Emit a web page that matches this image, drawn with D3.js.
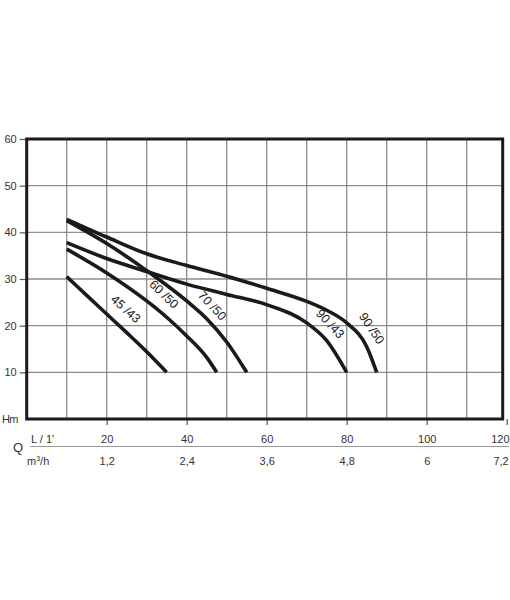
<!DOCTYPE html>
<html>
<head>
<meta charset="utf-8">
<script src="https://cdn.jsdelivr.net/npm/d3@7"></script>
<style>
  body { margin: 0; background: #fff; }
  svg { display: block; }
  text { font-family: "Liberation Sans", Arial, sans-serif; }
</style>
</head>
<body>
<div id="chart"></div>
<script>
// pump curves: Q in L/min, H in m
const c4543 = [[10, 30.5], [15, 26.5], [20, 22.5], [25, 18.5], [30, 14.4], [35, 10]];
const c6050 = [[10, 36.4], [20, 31.3], [30, 25.3], [35, 21.8], [40, 17.8], [45, 13.2], [47.5, 10]];
const c7050 = [[10, 42.5], [20, 37.6], [30, 31.8], [40, 25.3], [45, 21.5], [50, 16.5], [55, 10]];
const c9043 = [[10, 37.8], [20, 34.4], [30, 31.6], [40, 28.9], [50, 26.7], [60, 24.5], [70, 20.6], [75, 16.8], [80, 10]];
const c9050 = [[10, 42.8], [20, 39], [30, 35.4], [40, 32.9], [50, 30.6], [60, 28], [70, 25.2], [75, 23.3], [80, 20.6], [85, 15.5], [87.5, 10]];

const curveNames = ["45 /43", "60 /50", "70 /50", "90 /43", "90 /50"];
// label anchor (Q, H) and angle
const labelQ = [23.75, 33.25, 45.25, 74.75, 85];
const labelH = [22.6, 25.8, 23.4, 19.5, 18.7];
const labelAngle = [42, 44, 47, 47, 56];

const hTicks = [10, 20, 30, 40, 50, 60];
const qTicks = [20, 40, 60, 80, 100, 120];
const m3hTicks = ["1,2", "2,4", "3,6", "4,8", "6", "7,2"];
const qGrid = [10, 20, 30, 40, 50, 60, 70, 80, 90, 100, 110];

const width = 510, height = 600;

const svg = d3.select("#chart").append("svg")
  .attr("width", width)
  .attr("height", height);

const x = d3.scaleLinear().domain([0, 120]).range([26.7, 506.7]);
const y = d3.scaleLinear().domain([0, 60]).range([419, 139]);

// grid
svg.append("g")
  .selectAll("line")
  .data(qGrid)
  .join("line")
  .attr("x1", d => x(d)).attr("x2", d => x(d))
  .attr("y1", y(0)).attr("y2", y(60))
  .attr("stroke", "#8c8c8c")
  .attr("stroke-width", 1.3);

svg.append("g")
  .selectAll("line")
  .data(hTicks.slice(0, -1))
  .join("line")
  .attr("x1", x(0)).attr("x2", x(119))
  .attr("y1", d => y(d)).attr("y2", d => y(d))
  .attr("stroke", "#8c8c8c")
  .attr("stroke-width", 1.3);

// left axis
const yAxis = svg.append("g")
  .attr("transform", `translate(${x(0)},0)`)
  .call(d3.axisLeft(y).tickValues(hTicks).tickSize(7).tickPadding(3));
yAxis.select(".domain").remove();
yAxis.selectAll(".tick line").attr("stroke", "#555").attr("stroke-width", 1.2);
yAxis.selectAll(".tick text")
  .attr("font-size", 11)
  .attr("fill", "#333")
  .attr("font-family", "'Liberation Sans', Arial, sans-serif");

svg.append("text")
  .attr("x", 18).attr("y", y(0) + 4)
  .attr("text-anchor", "end")
  .attr("font-size", 11)
  .attr("fill", "#333")
  .attr("letter-spacing", -0.5)
  .text("Hm");

// bottom axis: L/1'
const xAxis = svg.append("g")
  .attr("transform", `translate(0,${y(0)})`)
  .call(d3.axisBottom(x).tickValues(qTicks).tickSize(6).tickPadding(10));
xAxis.select(".domain").remove();
xAxis.selectAll(".tick line").attr("stroke", "#555").attr("stroke-width", 1.2);
xAxis.selectAll(".tick text")
  .attr("font-size", 11)
  .attr("fill", "#333")
  .attr("font-family", "'Liberation Sans', Arial, sans-serif")
  .filter(d => d === 120).attr("text-anchor", "end").attr("dx", 2.3);

// bottom axis: m3/h
const mAxis = svg.append("g")
  .attr("transform", `translate(0,${y(0)})`)
  .call(d3.axisBottom(x).tickValues(qTicks).tickSize(0).tickPadding(38)
    .tickFormat((d, i) => m3hTicks[i]));
mAxis.select(".domain").remove();
mAxis.selectAll(".tick text")
  .attr("font-size", 11)
  .attr("fill", "#333")
  .attr("font-family", "'Liberation Sans', Arial, sans-serif")
  .filter(d => d === 120).attr("text-anchor", "end").attr("dx", 1.5);

// separator between units
svg.append("line")
  .attr("x1", 30).attr("x2", 509)
  .attr("y1", 446.5).attr("y2", 446.5)
  .attr("stroke", "#999")
  .attr("stroke-width", 1.2);

svg.append("text")
  .attr("x", 13).attr("y", 452)
  .attr("font-size", 13)
  .attr("fill", "#333")
  .text("Q");

svg.append("text")
  .attr("x", 31).attr("y", 443)
  .attr("font-size", 11)
  .attr("fill", "#333")
  .text("L / 1'");

const mt = svg.append("text")
  .attr("x", 27).attr("y", 465)
  .attr("font-size", 11)
  .attr("fill", "#333");
mt.append("tspan").text("m");
mt.append("tspan").attr("font-size", 7).attr("dy", -4).text("3");
mt.append("tspan").attr("dy", 4).text("/h");

// frame
svg.append("rect")
  .attr("x", x(0)).attr("y", y(60))
  .attr("width", x(119) - x(0))
  .attr("height", y(0) - y(60))
  .attr("fill", "none")
  .attr("stroke", "#1a1a1a")
  .attr("stroke-width", 3);

// curves
const line = d3.line()
  .x(d => x(d[0]))
  .y(d => y(d[1]))
  .curve(d3.curveMonotoneX);

const curves = [c4543, c6050, c7050, c9043, c9050];

svg.append("g")
  .selectAll("path")
  .data(curves)
  .join("path")
  .attr("d", line)
  .attr("fill", "none")
  .attr("stroke", "#1a1a1a")
  .attr("stroke-width", 3.6);

// labels sit just above-right of their curve
svg.append("g")
  .selectAll("text")
  .data(curveNames)
  .join("text")
  .attr("transform", (d, i) => `translate(${x(labelQ[i])},${y(labelH[i])}) rotate(${labelAngle[i]})`)
  .attr("text-anchor", "middle")
  .attr("dy", "-0.15em")
  .attr("font-size", 12.5)
  .attr("fill", "#1a1a1a")
  .text(d => d);
</script>
</body>
</html>
